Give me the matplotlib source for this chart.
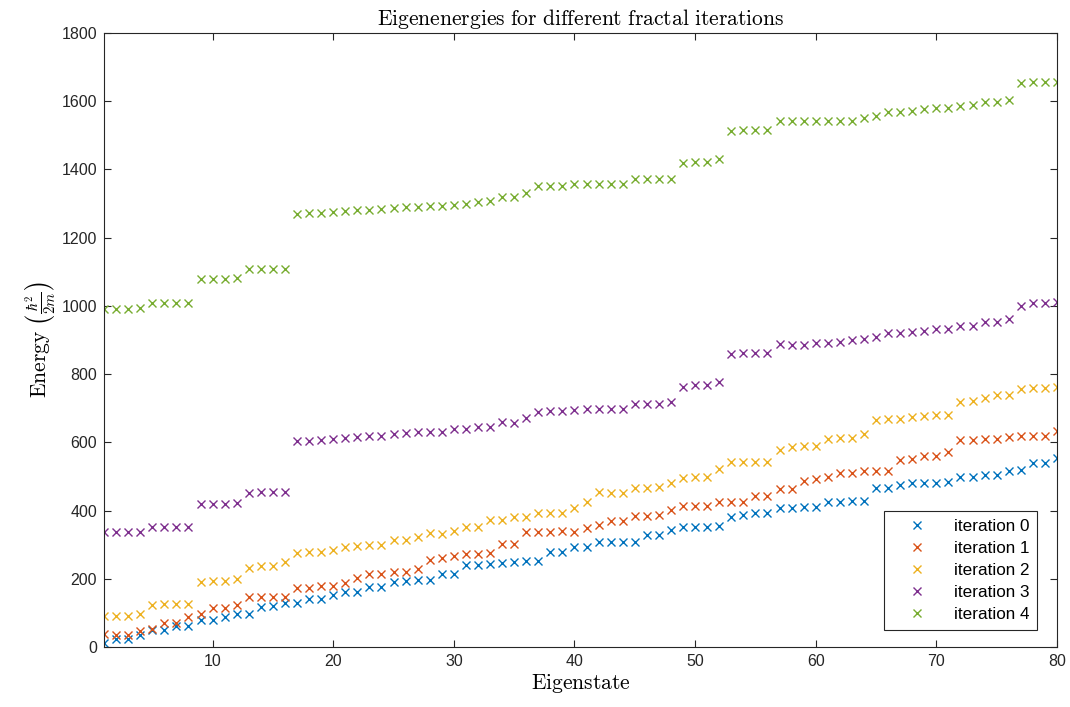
import matplotlib
matplotlib.use("Agg")
import matplotlib.pyplot as plt
import numpy as np

eigenstate = list(range(1, 81))

iteration0 = [11, 22, 22, 35, 50, 50, 62, 62, 79, 79, 89, 97, 97, 118, 119, 128, 130, 141, 141, 153,
              160, 162, 175, 175, 192, 194, 196, 196, 214, 214, 240, 240, 242, 247, 250, 252, 252, 279, 279, 294,
              294, 309, 309, 309, 309, 328, 328, 343, 351, 351, 351, 354, 382, 387, 392, 392, 407, 407, 410, 410,
              426, 426, 429, 429, 467, 467, 475, 480, 481, 482, 485, 499, 499, 504, 504, 516, 518, 538, 538, 553]
iteration1 = [37, 35, 36, 47, 52, 71, 70, 87, 96, 115, 115, 123, 146, 147, 147, 147, 172, 172, 179, 180,
              189, 201, 214, 214, 219, 219, 229, 255, 262, 267, 273, 273, 276, 302, 302, 336, 336, 336, 339, 338,
              350, 358, 370, 370, 384, 384, 387, 402, 413, 413, 413, 426, 426, 426, 443, 443, 462, 462, 488, 492,
              497, 509, 509, 517, 517, 517, 548, 550, 560, 560, 573, 607, 607, 610, 610, 617, 620, 620, 620, 634]
iteration2 = [92, 92, 92, 97, 123, 126, 126, 126, 190, 193, 193, 198, 231, 238, 238, 248, 275, 279, 279, 284,
              292, 296, 299, 299, 314, 314, 322, 333, 332, 341, 353, 353, 372, 372, 382, 382, 392, 392, 393, 407,
              426, 453, 451, 451, 465, 465, 470, 480, 496, 499, 499, 522, 543, 543, 543, 543, 578, 587, 590, 590,
              609, 612, 612, 624, 665, 667, 667, 673, 677, 680, 680, 719, 721, 729, 739, 739, 755, 758, 758, 763]
iteration3 = [336, 336, 336, 338, 353, 353, 353, 353, 419, 419, 419, 422, 452, 455, 455, 455, 604, 605, 607, 610,
              613, 616, 618, 619, 625, 627, 631, 630, 630, 639, 639, 644, 645, 660, 657, 670, 690, 692, 692, 695,
              697, 699, 699, 699, 712, 712, 712, 717, 763, 767, 767, 777, 859, 861, 861, 861, 887, 886, 886, 890,
              892, 895, 900, 902, 910, 920, 920, 924, 927, 931, 931, 941, 941, 954, 954, 961, 1000, 1008, 1008, 1012]
iteration4 = [991, 991, 991, 995, 1008, 1008, 1008, 1008, 1079, 1079, 1079, 1082, 1107, 1107, 1107, 1107, 1270, 1271, 1273, 1276,
              1279, 1281, 1282, 1284, 1288, 1289, 1291, 1293, 1293, 1296, 1298, 1306, 1307, 1318, 1318, 1332, 1352, 1351, 1351, 1356,
              1356, 1358, 1358, 1358, 1371, 1371, 1371, 1371, 1420, 1422, 1422, 1432, 1514, 1516, 1516, 1516, 1542, 1543, 1543, 1543,
              1543, 1543, 1543, 1550, 1558, 1567, 1567, 1572, 1576, 1579, 1579, 1587, 1589, 1597, 1599, 1605, 1654, 1657, 1657, 1657]

series = [iteration0, iteration1, iteration2, iteration3, iteration4]
labels = ["iteration 0", "iteration 1", "iteration 2", "iteration 3", "iteration 4"]
colors = ["#0072BD", "#D95319", "#EDB120", "#7E2F8E", "#77AC30"]
xticks = [10, 20, 30, 40, 50, 60, 70, 80]
yticks = [0, 200, 400, 600, 800, 1000, 1200, 1400, 1600, 1800]

plt.rcParams['mathtext.fontset'] = 'cm'
plt.rcParams['font.family'] = ['Liberation Sans', 'DejaVu Sans']

fig = plt.figure(figsize=(10.7, 7.07), dpi=100)
ax = fig.add_axes([104/1070, 60/707, 953/1070, 614/707])

for vals, lab, col in zip(series, labels, colors):
    ax.plot(eigenstate, vals, linestyle='none', marker='x', markersize=6.3,
            markeredgewidth=1.0, color=col, label=lab)

ax.set_xlim(1, 80)
ax.set_ylim(0, 1800)
ax.set_xticks(xticks)
ax.set_yticks(yticks)
ax.tick_params(direction='in', length=5, width=0.8, top=True, right=True,
               labelsize=11.5, colors='#262626', pad=5)
for s in ax.spines.values():
    s.set_color('#262626')
    s.set_linewidth(0.8)

ax.set_title(r'$\mathrm{Eigenenergies\ for\ different\ fractal\ iterations}$', fontsize=15.5,
             color='#000000', pad=6)
ax.set_xlabel(r'$\mathrm{Eigenstate}$', fontsize=15.5, labelpad=2)
ax.set_ylabel(r'$\mathrm{Energy}\ \left(\frac{\hbar^2}{2m}\right)$', fontsize=15.5, labelpad=2)

leg = ax.legend(loc='lower right', bbox_to_anchor=(0.979, 0.0277), fontsize=12.3,
                frameon=True, fancybox=False, edgecolor='#262626', framealpha=1,
                handlelength=3.0, handletextpad=0.65, borderpad=0.45, labelspacing=0.42,
                borderaxespad=0)
leg.get_frame().set_linewidth(0.8)

fig.savefig("out.png", dpi=100)
